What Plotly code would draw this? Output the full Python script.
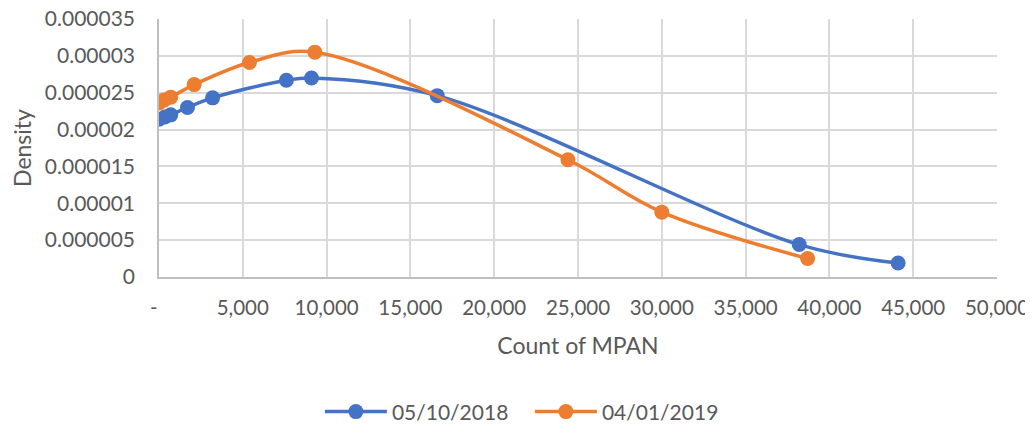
import plotly.graph_objects as go

# Data
blue_name = "05/10/2018"
blue_x = [0, 350, 700, 1700, 3200, 7600, 9100, 16600, 38200, 44100]
blue_y = [21.4e-6, 21.7e-6, 22.0e-6, 23.0e-6, 24.3e-6, 26.7e-6, 27.0e-6, 24.6e-6, 4.4e-6, 1.9e-6]

orange_name = "04/01/2019"
orange_x = [0, 300, 700, 2100, 5400, 9300, 24400, 30000, 38700]
orange_y = [23.6e-6, 24.0e-6, 24.4e-6, 26.1e-6, 29.1e-6, 30.5e-6, 15.9e-6, 8.8e-6, 2.5e-6]

x_tickvals = [0, 5000, 10000, 15000, 20000, 25000, 30000, 35000, 40000, 45000, 50000]
x_ticktext = ["-\u00a0\u00a0", "5,000", "10,000", "15,000", "20,000", "25,000", "30,000",
              "35,000", "40,000", "45,000", "50,000"]
y_tickvals = [0, 5e-6, 10e-6, 15e-6, 20e-6, 25e-6, 30e-6, 35e-6]
y_ticktext = ["0", "0.000005", "0.00001", "0.000015", "0.00002", "0.000025", "0.00003", "0.000035"]

FONT = "Lato"
TXT = "#595959"

fig = go.Figure()
fig.add_trace(go.Scatter(
    x=blue_x, y=blue_y, name=blue_name, mode="lines+markers",
    line=dict(color="#4472C4", width=3.5, shape="spline", smoothing=1.0),
    marker=dict(color="#4472C4", size=15),
))
fig.add_trace(go.Scatter(
    x=orange_x, y=orange_y, name=orange_name, mode="lines+markers",
    line=dict(color="#ED7D31", width=3.5, shape="spline", smoothing=1.0),
    marker=dict(color="#ED7D31", size=15),
))

fig.update_layout(
    width=1025, height=420,
    margin=dict(l=151, r=36, t=11, b=151, autoexpand=False),
    paper_bgcolor="white", plot_bgcolor="white",
    font=dict(family=FONT, size=21, color=TXT),
    showlegend=True,
    legend=dict(orientation="h", x=0.192, xanchor="left", y=-0.523, yanchor="middle",
                font=dict(family=FONT, size=21, color=TXT),
                itemwidth=62, entrywidth=133, entrywidthmode="pixels",
                traceorder="normal"),
    xaxis=dict(
        range=[0, 50000], tickvals=x_tickvals, ticktext=x_ticktext,
        showgrid=True, gridcolor="#D9D9D9", gridwidth=1.5,
        showline=True, linecolor="#BFBFBF", linewidth=1.5, mirror=False,
        zeroline=False, ticks="", ticklen=0, ticklabelstandoff=12,
        automargin=False, ticklabeloverflow="allow",
        title=dict(text="Count of MPAN", font=dict(family=FONT, size=23, color=TXT), standoff=20),
        tickfont=dict(family=FONT, size=20.5, color=TXT),
    ),
    yaxis=dict(
        range=[0, 35e-6], tickvals=y_tickvals, ticktext=y_ticktext,
        showgrid=True, gridcolor="#D9D9D9", gridwidth=1.5,
        showline=True, linecolor="#BFBFBF", linewidth=1.5,
        zeroline=False, ticks="", ticklen=0, ticklabelstandoff=18,
        automargin=False, ticklabeloverflow="allow",
        title=dict(text="Density", font=dict(family=FONT, size=23, color=TXT), standoff=8),
        tickfont=dict(family=FONT, size=21, color=TXT),
    ),
)

fig.write_html("out.html")
